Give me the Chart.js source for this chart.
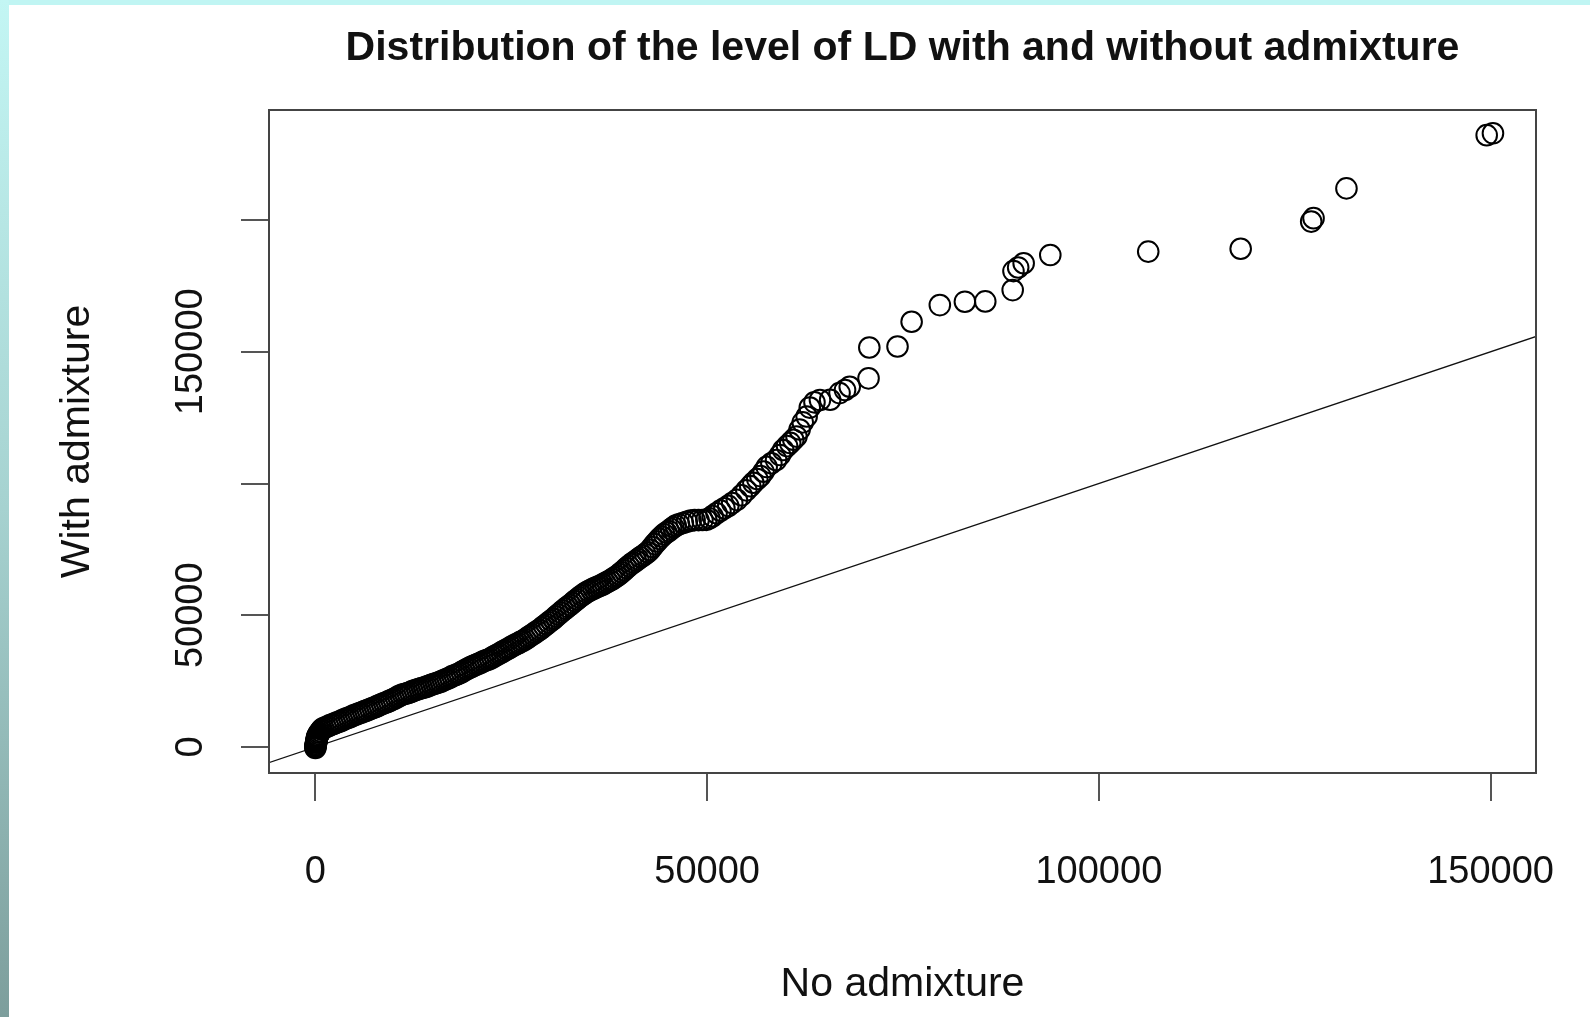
<!DOCTYPE html>
<html><head><meta charset="utf-8">
<script src="https://cdn.jsdelivr.net/npm/chart.js@4.4.0/dist/chart.umd.min.js"></script>
<style>
html,body{margin:0;padding:0;background:#fff;width:1590px;height:1017px;overflow:hidden;}
#wrap{position:relative;width:1590px;height:1017px;background:#fff;}
#topStrip{position:absolute;left:0;top:0;width:1590px;height:5px;background:#c0f5f3;}
#leftStrip{position:absolute;left:0;top:0;width:9px;height:1017px;background:linear-gradient(#c3f6f4,#a6d2d0 50%,#7d9e9c);}
canvas{position:absolute;left:0;top:0;}
</style></head>
<body><div id="wrap"><div id="topStrip"></div><div id="leftStrip"></div><canvas id="c" width="1590" height="1017"></canvas></div>
<script>
const chartTitle = 'Distribution of the level of LD with and without admixture';
const xTitle = 'No admixture';
const yTitle = 'With admixture';

// sorted quantiles (QQ plot): x = without admixture, y = with admixture
const noAdmixture = [
0,0,0,50,50,100,100,150,150,200,
200,250,300,400,500,650,800,1000,1300,1600,
1900,2200,2500,2800,3100,3400,3700,4000,4300,4600,
4900,5200,5500,5800,6100,6400,6700,7000,7300,7600,
7900,8200,8500,8800,9100,9400,9700,10000,10300,10600,
10900,11200,11500,11800,12100,12400,12700,13000,13300,13600,
13900,14200,14500,14800,15100,15400,15700,16000,16300,16600,
16900,17200,17500,17800,18100,18400,18700,19000,19300,19600,
19900,20200,20500,20800,21100,21400,21700,22000,22300,22600,
22900,23200,23500,23800,24100,24400,24700,25000,25300,25600,
25900,26200,26500,26800,27100,27400,27700,28000,28300,28600,
28900,29200,29500,29800,30100,30400,30700,31000,31300,31600,
31900,32200,32500,32800,33100,33400,33700,34000,34300,34600,
34900,35200,35500,35800,36100,36400,36700,37000,37300,37600,
37900,38200,38500,38800,39100,39400,39700,40000,40300,40600,
40900,41200,41500,41800,42100,42400,42700,43000,43300,43600,
43900,44200,44500,44800,45100,45400,45700,46000,46400,46900,
47400,47900,48400,48900,49400,49900,50300,50700,51200,51700,
52200,52700,53200,53800,54400,55000,55500,55900,56400,56800,
57200,57600,58200,58800,59300,59700,60200,60600,61000,61400,
61800,62200,62700,63100,63700,64400,65700,66900,67600,68200,
70600,70700,74300,76100,79700,82900,85500,89000,89100,89700,
90400,93800,106300,118100,127100,127400,131600,149500,150300
];
const withAdmixture = [
-400,0,400,800,1200,1600,2000,2400,2800,3200,
3600,4000,4400,4900,5400,6000,6600,7100,7500,7900,
8300,8600,9000,9400,9700,10100,10500,10900,11200,11600,
12000,12300,12700,13000,13400,13700,14000,14400,14800,15100,
15500,15900,16300,16700,17000,17400,17800,18200,18700,19200,
19600,20000,20200,20500,20800,21200,21500,21800,22100,22400,
22600,22900,23200,23600,23900,24200,24500,24800,25200,25600,
26000,26400,26900,27200,27600,28000,28500,29000,29500,30000,
30400,30800,31200,31600,32000,32400,32800,33100,33500,34000,
34500,35000,35500,36000,36500,37000,37500,38000,38500,39000,
39400,39900,40300,40900,41500,42100,42700,43300,43900,44500,
45200,45900,46600,47300,48000,48700,49500,50300,51000,51800,
52500,53200,53900,54600,55400,56100,56800,57500,58100,58700,
59200,59700,60100,60500,60900,61300,61700,62200,62700,63200,
63700,64300,64900,65600,66300,67100,67900,68700,69400,70000,
70700,71300,72000,72600,73200,73900,74800,75900,77000,78000,
79000,79900,80700,81400,82000,82700,83400,84000,84500,85000,
85500,85900,86100,86100,86150,86200,86800,87600,88700,89700,
90600,91500,92600,93800,95500,97400,99000,100300,101700,102800,
104500,106300,107700,108900,110800,112700,114200,115400,116600,117800,
120500,123200,125400,128800,130800,131700,131800,134300,135500,136700,
139900,151600,152000,161400,167700,169000,169100,173400,180600,182000,
183600,186700,188000,189100,199400,200700,212000,232200,232900
];

// reference line y = x (abline(0,1))
const refLineX = [-50000, 250000];
const refLineY = [-50000, 250000];

const xRange = [-5922, 155794];
const yRange = [-9867, 241746];
const xTickValues = [0, 50000, 100000, 150000];
const xTickLabels = ['0', '50000', '100000', '150000'];
const yTickValues = [0, 50000, 100000, 150000, 200000];
const yTickLabels = ['0', '50000', '', '150000', ''];

const FONT = '"Liberation Sans", Arial, Helvetica, sans-serif';
const points = noAdmixture.map((x, i) => ({x: x, y: withAdmixture[i]}));
const line = refLineX.map((x, i) => ({x: x, y: refLineY[i]}));

const rStyle = {
  id: 'rStyle',
  afterDraw(chart) {
    const {ctx, chartArea: a, scales: {y}} = chart;
    ctx.save();
    ctx.strokeStyle = '#444';
    ctx.lineWidth = 2;
    ctx.strokeRect(a.left, a.top, a.right - a.left, a.bottom - a.top);
    ctx.fillStyle = '#111';
    ctx.font = '38px ' + FONT;
    ctx.textAlign = 'center';
    ctx.textBaseline = 'middle';
    yTickValues.forEach((v, i) => {
      if (!yTickLabels[i]) return;
      const py = y.getPixelForValue(v);
      ctx.save();
      ctx.translate(a.left - 77.5, py);
      ctx.rotate(-Math.PI / 2);
      ctx.fillText(yTickLabels[i], 0, 0);
      ctx.restore();
    });
    ctx.restore();
  }
};

new Chart(document.getElementById('c'), {
  data: {
    datasets: [
      {type: 'scatter', data: points, pointStyle: 'circle', pointRadius: 10.3, pointHoverRadius: 10.3,
       pointBorderWidth: 2, pointBorderColor: '#000', pointBackgroundColor: 'rgba(0,0,0,0)',
       borderColor: '#000', backgroundColor: 'rgba(0,0,0,0)'},
      {type: 'line', data: line, borderColor: '#111', borderWidth: 1.3, pointRadius: 0, fill: false, tension: 0}
    ]
  },
  options: {
    responsive: false, animation: false, devicePixelRatio: 1,
    layout: {padding: {left: 0, right: 54, top: 0, bottom: 0}},
    plugins: {
      legend: {display: false}, tooltip: {enabled: false},
      title: {display: true, text: chartTitle, fullSize: false, color: '#111',
        font: {family: FONT, size: 41, weight: 'bold', lineHeight: 1.2},
        padding: {top: 24.4, bottom: 36.4}}
    },
    scales: {
      x: {type: 'linear', position: 'bottom', min: xRange[0], max: xRange[1],
        afterBuildTicks: s => { s.ticks = xTickValues.map(v => ({value: v})); },
        afterFit: s => { s.height = 244; s.paddingLeft = 0; s.paddingRight = 0; },
        grid: {drawOnChartArea: false, drawTicks: true, tickLength: 28, color: '#555', lineWidth: 2},
        border: {display: false},
        ticks: {autoSkip: false, maxRotation: 0, minRotation: 0, padding: 49, color: '#111',
          font: {family: FONT, size: 38},
          callback: v => { const i = xTickValues.indexOf(v); return i >= 0 ? xTickLabels[i] : ''; }},
        title: {display: true, text: xTitle, color: '#111', font: {family: FONT, size: 41, lineHeight: 1.2},
          padding: {top: 0, bottom: 8}}
      },
      y: {type: 'linear', position: 'left', min: yRange[0], max: yRange[1],
        afterBuildTicks: s => { s.ticks = yTickValues.map(v => ({value: v})); },
        afterFit: s => { s.width = 269; s.paddingTop = 0; s.paddingBottom = 0; },
        grid: {drawOnChartArea: false, drawTicks: true, tickLength: 28, color: '#555', lineWidth: 2},
        border: {display: false},
        ticks: {display: false},
        title: {display: true, text: yTitle, color: '#111', font: {family: FONT, size: 41, lineHeight: 1.2},
          padding: {top: 53, bottom: 0}}
      }
    }
  },
  plugins: [rStyle]
});
</script>
</body></html>
